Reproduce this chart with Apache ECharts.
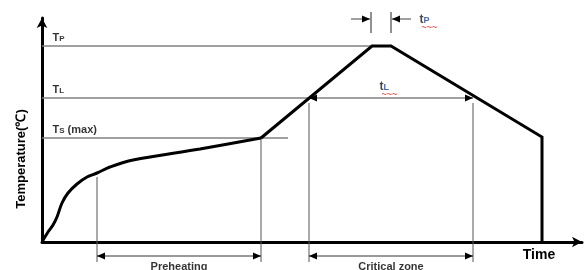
<!DOCTYPE html>
<html>
<head>
<meta charset="utf-8">
<script src="https://cdn.jsdelivr.net/npm/echarts@6/dist/echarts.min.js"></script>
<style>
html, body { margin: 0; padding: 0; background: #fff; }
#chart { width: 587px; height: 270px; }
</style>
</head>
<body>
<div id="chart"></div>
<script>
// reflow profile, both axes in arbitrary units (1 unit ~ 1 px of the drawing)
const heatX = [0, 6, 11, 15, 20, 26, 35, 45, 55, 68, 91, 158, 219];
const heatY = [0, 10, 17, 25, 39, 49, 58, 65, 69, 75, 82, 93, 104];
const profileX = [219, 330, 349, 500, 500];
const profileY = [104, 196, 196, 105, 0];

// temperature levels
const levelMain = ['T', 'T', 'T'];
const levelSub = ['P', 'L', 'S'];
const levelSuffix = ['', '', ' (max)'];
const levelY = [196, 144, 104];
const levelEndX = [330, 267, 246];

// vertical markers
const markerX = [55, 219, 267, 431];
const markerTop = [65, 104, 139, 139];
const markerBottom = -20;

// zones under the time axis
const zoneNames = ['Preheating', 'Critical zone'];
const zoneFrom = [55, 267];
const zoneTo = [219, 431];
const zoneY = -14;

// tL (time above liquidus) and tP (time at peak)
const tlFrom = 267;
const tlTo = 431;
const tpFrom = 329;
const tpTo = 349;
const tpTickY = [209, 230];
const tpArrowY = 223;
const tpArrowLen = 20;

const font = '"Liberation Sans", Arial, sans-serif';

function pairs(xs, ys) {
	return xs.map((x, i) => [x, ys[i]]);
}

function head(x, y, dir) {
	// dir 1 = points right, -1 = points left
	return {
		value: [x, y],
		symbol: 'triangle',
		symbolSize: [7, 8],
		symbolRotate: dir > 0 ? -90 : 90,
		symbolOffset: [-dir * 4, 0],
	};
}

function plain(x, y) {
	return { value: [x, y], symbol: 'none' };
}

function lineSeries(data, color, width, z) {
	return {
		type: 'line',
		data,
		symbol: 'triangle',
		showSymbol: true,
		clip: false,
		silent: true,
		z: z || 2,
		lineStyle: { color, width },
		itemStyle: { color: '#000' },
		emphasis: { disabled: true },
	};
}

const subRich = {
	t: { fontSize: 11, lineHeight: 14, verticalAlign: 'bottom', color: '#000', fontFamily: font, fontWeight: 'bold' },
	s: { fontSize: 8, lineHeight: 10, verticalAlign: 'bottom', color: '#000', fontFamily: font, fontWeight: 'bold' },
	lt: { fontSize: 12, lineHeight: 14, verticalAlign: 'bottom', color: '#1a1a1a', fontFamily: font, fontWeight: 'bold' },
	b: { fontSize: 9, lineHeight: 10, verticalAlign: 'bottom', color: '#23449a', fontFamily: font, fontWeight: 'bold' },
	w: { fontSize: 9, lineHeight: 5, color: '#e02020', fontFamily: font, fontWeight: 'bold', padding: [0, 0, 0, 2] },
};

const series = [];

levelY.forEach((y, i) => {
	series.push(lineSeries([plain(0, y), plain(levelEndX[i], y)], '#808080', 1.5, 1));
});

markerX.forEach((x, i) => {
	series.push(lineSeries([plain(x, markerTop[i]), plain(x, markerBottom)], '#555', 1, 1));
});

zoneNames.forEach((n, i) => {
	series.push(lineSeries([head(zoneFrom[i], zoneY, -1), head(zoneTo[i], zoneY, 1)], '#333', 1, 1));
});

series.push(lineSeries([head(tlFrom, levelY[1], -1), head(tlTo, levelY[1], 1)], '#808080', 1.5, 1));

// tP ticks and arrows
series.push(lineSeries([plain(tpFrom, tpTickY[0]), plain(tpFrom, tpTickY[1])], '#222', 1, 1));
series.push(lineSeries([plain(tpTo, tpTickY[0]), plain(tpTo, tpTickY[1])], '#222', 1, 1));
series.push(lineSeries([plain(tpFrom - tpArrowLen, tpArrowY), head(tpFrom - 1, tpArrowY, 1)], '#808080', 1.5, 1));
series.push(lineSeries([head(tpTo + 1, tpArrowY, -1), plain(tpTo + tpArrowLen, tpArrowY)], '#808080', 1.5, 1));

// profile curve
series.push({
	type: 'line',
	data: pairs(heatX, heatY),
	smooth: 0.35,
	showSymbol: false,
	clip: false,
	silent: true,
	z: 5,
	lineStyle: { color: '#000', width: 3 },
});
series.push({
	type: 'line',
	data: pairs(profileX, profileY),
	showSymbol: false,
	clip: false,
	silent: true,
	z: 5,
	lineStyle: { color: '#000', width: 3, join: 'miter' },
});

// text annotations
const labelData = [];
levelY.forEach((y, i) => {
	labelData.push({
		value: [0, y],
		label: {
			formatter: `{t|${levelMain[i]}}{s|${levelSub[i]}}` + (levelSuffix[i] ? `{t|${levelSuffix[i]}}` : ''),
			position: 'right',
			distance: 0,
			offset: [10, -10],
		},
	});
});
labelData.push({
	value: [tpTo + tpArrowLen + 8, tpArrowY],
	label: { formatter: '{lt|t}{b|P}\n{w|~~~}', position: 'right', distance: 0, offset: [0, 2] },
});
labelData.push({
	value: [(tlFrom + tlTo) / 2 - 12, levelY[1] + 12],
	label: { formatter: '{lt|t}{b|L}\n{w|~~~}', position: 'right', distance: 0, offset: [0, 2] },
});
zoneNames.forEach((n, i) => {
	labelData.push({
		value: [(zoneFrom[i] + zoneTo[i]) / 2, zoneY],
		label: {
			formatter: n,
			position: 'bottom',
			distance: 5,
			fontSize: 11,
			fontWeight: 'bold',
			color: '#000',
			fontFamily: font,
		},
	});
});

series.push({
	type: 'scatter',
	data: labelData,
	symbolSize: 1,
	clip: false,
	silent: true,
	z: 6,
	itemStyle: { color: 'rgba(0,0,0,0)' },
	label: { show: true, rich: subRich, color: '#000' },
});

const chart = echarts.init(document.getElementById('chart'), null, { renderer: 'canvas' });
chart.setOption({
	animation: false,
	backgroundColor: '#fff',
	grid: { left: 42, right: 5, top: 18, bottom: 28, containLabel: false, outerBoundsMode: 'none' },
	xAxis: {
		type: 'value',
		min: 0,
		max: 540,
		name: 'Time',
		nameLocation: 'end',
		nameGap: -43,
		nameTextStyle: {
			fontFamily: font,
			fontSize: 14,
			fontWeight: 'bold',
			color: '#000',
			align: 'center',
			verticalAlign: 'top',
			padding: [6, 0, 0, 0],
		},
		axisLine: {
			show: true,
			onZero: false,
			symbol: ['none', 'arrow'],
			symbolSize: [8, 10],
			lineStyle: { color: '#000', width: 3 },
		},
		axisTick: { show: false },
		axisLabel: { show: false },
		splitLine: { show: false },
	},
	yAxis: {
		type: 'value',
		min: 0,
		max: 224,
		name: 'Temperature(℃)',
		nameLocation: 'middle',
		nameRotate: 90,
		nameGap: 14,
		nameTextStyle: {
			fontFamily: font,
			fontSize: 13,
			fontWeight: 'bold',
			color: '#000',
			padding: [0, 58, 0, 0],
		},
		axisLine: {
			show: true,
			symbol: ['none', 'arrow'],
			symbolSize: [8, 10],
			lineStyle: { color: '#000', width: 3 },
		},
		axisTick: { show: false },
		axisLabel: { show: false },
		splitLine: { show: false },
	},
	series,
});
</script>
</body>
</html>
